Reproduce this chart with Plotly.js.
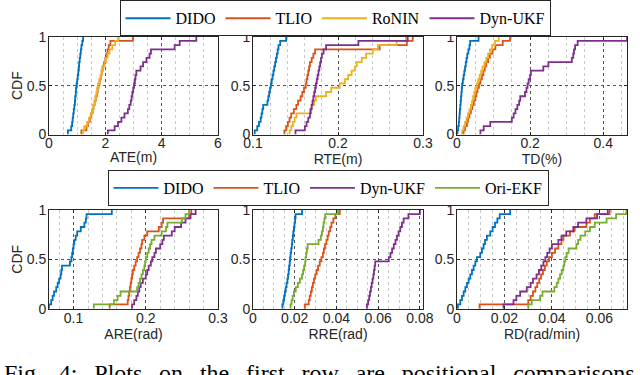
<!DOCTYPE html>
<html>
<head>
<meta charset="utf-8">
<script src="https://cdn.plot.ly/plotly-3.0.1.min.js"></script>
<style>html,body{margin:0;padding:0;background:#fff;}#chart{width:640px;height:375px;}</style>
</head>
<body>
<div id="chart"></div>
<script>
// ---------- data (error samples) ----------
const methodsTop = ['DIDO', 'TLIO', 'RoNIN', 'Dyn-UKF'];
const methodsBottom = ['DIDO', 'TLIO', 'Dyn-UKF', 'Ori-EKF'];
const colors = {'DIDO': '#0072BD', 'TLIO': '#D95319', 'RoNIN': '#EDB120', 'Dyn-UKF': '#7E2F8E', 'Ori-EKF': '#77AC30'};

const ateDIDO  = [0.67,0.79,0.82,0.84,0.86,0.88,0.90,0.92,0.93,0.95,0.96,0.98,1.00,1.02,1.04,1.06,1.07,1.09,1.11,1.13,1.15,1.18,1.21];
const ateTLIO  = [1.15,1.33,1.38,1.45,1.50,1.55,1.58,1.62,1.66,1.70,1.73,1.76,1.80,1.84,1.87,1.90,1.95,2.00,2.03,2.08,2.12,2.18,2.98];
const ateRoNIN = [1.20,1.25,1.35,1.42,1.48,1.53,1.58,1.62,1.65,1.68,1.71,1.75,1.79,1.83,1.87,1.92,1.97,2.02,2.08,2.15,2.25,2.35,2.45];
const ateDynUKF= [2.09,2.33,2.45,2.57,2.68,2.80,2.85,2.90,2.93,2.96,2.99,3.02,3.05,3.07,3.10,3.25,3.34,3.46,3.57,3.62,4.46,4.64,5.23];

const rteDIDO  = [0.102,0.105,0.107,0.109,0.110,0.111,0.112,0.117,0.118,0.119,0.120,0.121,0.122,0.123,0.124,0.125,0.126,0.127,0.128,0.129,0.130,0.132,0.139];
const rteTLIO  = [0.137,0.139,0.141,0.143,0.145,0.148,0.151,0.153,0.156,0.158,0.160,0.162,0.163,0.164,0.165,0.166,0.167,0.169,0.171,0.173,0.249,0.281,0.288];
const rteRoNIN = [0.143,0.145,0.147,0.149,0.151,0.167,0.169,0.172,0.174,0.186,0.192,0.202,0.208,0.212,0.216,0.220,0.222,0.228,0.233,0.241,0.247,0.269,0.280];
const rteDynUKF= [0.150,0.161,0.163,0.165,0.167,0.168,0.169,0.170,0.171,0.172,0.173,0.174,0.175,0.176,0.177,0.178,0.179,0.180,0.181,0.183,0.186,0.224,0.282];

const tdDIDO   = [0.001,0.003,0.005,0.006,0.007,0.008,0.009,0.010,0.011,0.012,0.013,0.014,0.016,0.018,0.020,0.022,0.024,0.026,0.028,0.031,0.034,0.036,0.059];
const tdTLIO   = [0.018,0.022,0.027,0.030,0.034,0.038,0.042,0.046,0.050,0.053,0.056,0.060,0.064,0.068,0.072,0.076,0.080,0.085,0.090,0.097,0.105,0.125,0.145];
const tdRoNIN  = [0.014,0.018,0.022,0.026,0.030,0.034,0.038,0.041,0.044,0.047,0.050,0.054,0.058,0.062,0.066,0.070,0.075,0.080,0.085,0.090,0.096,0.104,0.114];
const tdDynUKF = [0.064,0.073,0.091,0.150,0.155,0.160,0.165,0.170,0.173,0.186,0.190,0.193,0.196,0.200,0.202,0.236,0.250,0.314,0.318,0.320,0.323,0.330,0.465];

const areDIDO  = [0.066,0.069,0.071,0.073,0.076,0.078,0.080,0.082,0.083,0.084,0.095,0.097,0.098,0.099,0.100,0.101,0.103,0.105,0.110,0.115,0.117,0.118,0.153];
const areTLIO  = [0.150,0.175,0.176,0.177,0.178,0.179,0.180,0.181,0.182,0.184,0.186,0.188,0.190,0.192,0.194,0.195,0.198,0.202,0.218,0.222,0.224,0.260,0.263];
const areDynUKF= [0.181,0.184,0.187,0.189,0.191,0.193,0.196,0.200,0.202,0.204,0.207,0.209,0.212,0.214,0.220,0.223,0.225,0.236,0.240,0.249,0.255,0.262,0.269];
const areOriEKF= [0.128,0.156,0.161,0.165,0.188,0.190,0.192,0.194,0.196,0.198,0.199,0.200,0.202,0.204,0.206,0.208,0.212,0.222,0.228,0.230,0.250,0.255,0.260];

const rreDIDO  = [0.0141,0.0145,0.0149,0.0153,0.0157,0.0161,0.0165,0.0168,0.0171,0.0173,0.0176,0.0178,0.0180,0.0183,0.0186,0.0188,0.0191,0.0193,0.0196,0.0199,0.0202,0.0204,0.0235];
const rreTLIO  = [0.0248,0.0267,0.0272,0.0277,0.0282,0.0287,0.0292,0.0298,0.0305,0.0312,0.0320,0.0328,0.0335,0.0340,0.0345,0.0352,0.0358,0.0363,0.0370,0.0376,0.0385,0.0395,0.0416];
const rreDynUKF= [0.0546,0.0552,0.0557,0.0561,0.0565,0.0569,0.0573,0.0577,0.0580,0.0583,0.0586,0.0651,0.0659,0.0667,0.0675,0.0683,0.0690,0.0698,0.0706,0.0714,0.0722,0.0745,0.0800];
const rreOriEKF= [0.0180,0.0185,0.0190,0.0196,0.0205,0.0215,0.0225,0.0235,0.0240,0.0245,0.0250,0.0252,0.0255,0.0258,0.0262,0.0314,0.0325,0.0330,0.0335,0.0338,0.0342,0.0346,0.0408];

const rdDIDO   = [0.0004,0.0014,0.0021,0.0028,0.0035,0.0042,0.0049,0.0056,0.0063,0.0070,0.0077,0.0084,0.0098,0.0105,0.0112,0.0118,0.0126,0.0140,0.0150,0.0160,0.0170,0.0180,0.0224];
const rdTLIO   = [0.0095,0.0300,0.0310,0.0320,0.0330,0.0338,0.0346,0.0354,0.0362,0.0370,0.0378,0.0388,0.0400,0.0413,0.0427,0.0440,0.0448,0.0476,0.0495,0.0545,0.0560,0.0580,0.0643];
const rdDynUKF = [0.0196,0.0238,0.0250,0.0266,0.0294,0.0310,0.0320,0.0335,0.0345,0.0355,0.0364,0.0372,0.0380,0.0390,0.0400,0.0427,0.0440,0.0460,0.0490,0.0510,0.0545,0.0590,0.0635];
const rdOriEKF = [0.0300,0.0315,0.0350,0.0360,0.0410,0.0420,0.0427,0.0434,0.0441,0.0448,0.0452,0.0456,0.0462,0.0470,0.0503,0.0510,0.0520,0.0540,0.0560,0.0580,0.0630,0.0670,0.0713];

const xTitles = ['ATE(m)', 'RTE(m)', 'TD(%)', 'ARE(rad)', 'RRE(rad)', 'RD(rad/min)'];
const yTitle = 'CDF';
const yTickVals = [0, 0.5, 1];
const yTickText = ['0', '0.5', '1'];
const caption = ['Fig.', '4:', 'Plots', 'on', 'the', 'first', 'row', 'are', 'positional', 'comparisons'];

// ---------- build ----------
function ecdf(v) {
  const s = v.slice().sort((a, b) => a - b);
  const x = [s[0]], y = [0];
  s.forEach((val, i) => { x.push(val); y.push((i + 1) / s.length); });
  return {x, y};
}

const panels = [
  {series: [ateDIDO, ateTLIO, ateRoNIN, ateDynUKF], names: methodsTop, show: true},
  {series: [rteDIDO, rteTLIO, rteRoNIN, rteDynUKF], names: methodsTop},
  {series: [tdDIDO, tdTLIO, tdRoNIN, tdDynUKF], names: methodsTop},
  {series: [areDIDO, areTLIO, areDynUKF, areOriEKF], names: methodsBottom, show: true},
  {series: [rreDIDO, rreTLIO, rreDynUKF, rreOriEKF], names: methodsBottom},
  {series: [rdDIDO, rdTLIO, rdDynUKF, rdOriEKF], names: methodsBottom}
];

const traces = [];
panels.forEach((p, pi) => {
  p.series.forEach((vals, si) => {
    const c = ecdf(vals);
    traces.push({
      type: 'scatter', mode: 'lines', x: c.x, y: c.y,
      line: {shape: 'hv', color: colors[p.names[si]], width: 1.8},
      name: p.names[si],
      xaxis: pi === 0 ? 'x' : 'x' + (pi + 1),
      yaxis: pi === 0 ? 'y' : 'y' + (pi + 1),
      showlegend: !!p.show,
      legend: pi < 3 ? 'legend' : 'legend2',
      hoverinfo: 'skip'
    });
  });
});

const W = 640, H = 375;
const colPx = [[49, 218], [253, 423], [457, 627]];
const rowPx = [[33, 132], [208, 308]];
const axisSpec = [
  {range: [0, 6], dtick: 2, minor: 0.5},
  {range: [0.1, 0.3], dtick: 0.1, minor: 0.02},
  {range: [0, 0.465], dtick: 0.2, minor: 0.05},
  {range: [0.066, 0.3], dtick: 0.1, minor: 0.02},
  {range: [0, 0.0815], dtick: 0.02, minor: 0.005},
  {range: [0, 0.0716], dtick: 0.02, minor: 0.005}
];
const tickFont = {family: 'Liberation Sans, Arial, sans-serif', size: 14, color: '#262626'};

const layout = {
  width: W, height: H,
  margin: {l: 0, r: 0, t: 0, b: 0},
  paper_bgcolor: '#fff', plot_bgcolor: '#fff',
  showlegend: true,
  legend: {orientation: 'h', x: 335 / W, xanchor: 'center', y: 1 - 14.5 / H, yanchor: 'middle',
    bgcolor: '#fff', bordercolor: '#262626', borderwidth: 1, itemwidth: 45,
    font: {family: 'Liberation Serif, Times New Roman, serif', size: 16, color: '#000'}},
  legend2: {orientation: 'h', x: 328 / W, xanchor: 'center', y: 1 - 186 / H, yanchor: 'middle',
    bgcolor: '#fff', bordercolor: '#262626', borderwidth: 1, itemwidth: 45,
    font: {family: 'Liberation Serif, Times New Roman, serif', size: 16, color: '#000'}},
  annotations: [{
    xref: 'paper', yref: 'paper', x: 2 / W, xanchor: 'left', y: 1 - 358 / H, yanchor: 'top',
    text: caption.join(' \u00A0\u2009'), showarrow: false,
    font: {family: 'Liberation Serif, Times New Roman, serif', size: 24, color: '#000'}
  }]
};

axisSpec.forEach((a, i) => {
  const row = i < 3 ? 0 : 1, col = i % 3;
  const xk = i === 0 ? 'xaxis' : 'xaxis' + (i + 1);
  const yk = i === 0 ? 'yaxis' : 'yaxis' + (i + 1);
  const yid = i === 0 ? 'y' : 'y' + (i + 1);
  const xid = i === 0 ? 'x' : 'x' + (i + 1);
  layout[xk] = {
    domain: [colPx[col][0] / W, colPx[col][1] / W], anchor: yid,
    range: a.range, tick0: 0, dtick: a.dtick, ticks: 'inside', ticklen: 3, tickcolor: '#262626',
    ticklabelstandoff: -4,
    showline: true, linecolor: '#262626', linewidth: 1, mirror: 'ticks',
    showgrid: true, gridcolor: '#555', griddash: 'dot', gridwidth: 1, zeroline: false,
    minor: {dtick: a.minor, tick0: 0, showgrid: true, gridcolor: '#c8c8c8', griddash: 'dot', gridwidth: 1},
    tickfont: tickFont,
    title: {text: xTitles[i], font: tickFont, standoff: 1},
    fixedrange: true
  };
  layout[yk] = {
    domain: [1 - rowPx[row][1] / H, 1 - rowPx[row][0] / H], anchor: xid,
    range: [0, 1], tickvals: yTickVals, ticktext: yTickText, ticks: 'inside', ticklen: 3, tickcolor: '#262626',
    ticklabelstandoff: -1,
    showline: true, linecolor: '#262626', linewidth: 1, mirror: 'ticks',
    showgrid: true, gridcolor: '#555', griddash: 'dot', gridwidth: 1, zeroline: false,
    tickfont: tickFont,
    title: col === 0 ? {text: yTitle, font: tickFont, standoff: 0} : {text: ''},
    fixedrange: true
  };
});

Plotly.newPlot('chart', traces, layout, {displayModeBar: false, staticPlot: true});
</script>
</body>
</html>
